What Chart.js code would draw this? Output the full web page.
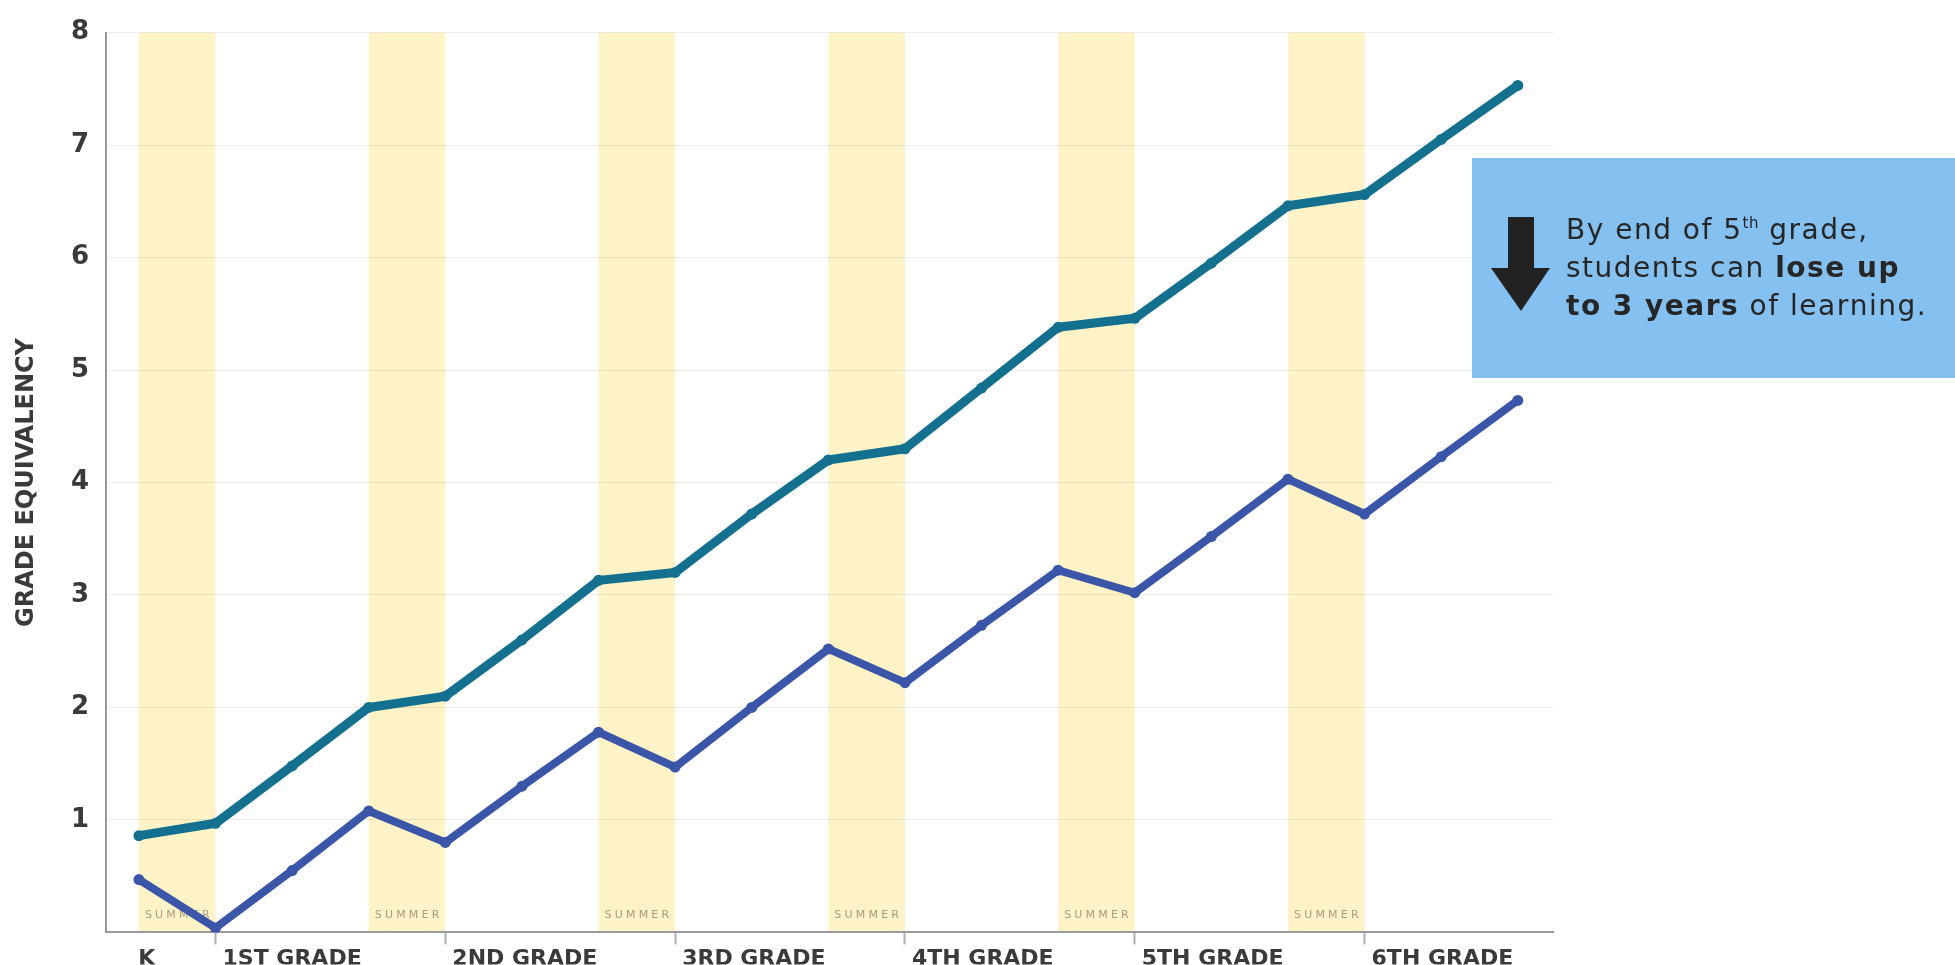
<!DOCTYPE html>
<html>
<head>
<meta charset="utf-8">
<script src="https://cdn.jsdelivr.net/npm/chart.js@4.4.1/dist/chart.umd.min.js"></script>
<style>
  html, body { margin: 0; padding: 0; background: #ffffff; }
  #wrap { width: 1955px; height: 965px; position: relative; }
  canvas { display: block; }
</style>
</head>
<body>
<div id="wrap"><canvas id="chart" width="1955" height="965"></canvas></div>
<script>
// ---------------- DATA ----------------
// 19 measurement points: start of summer, end of summer, mid-year ... (K through 6th grade)
const periods = [
  'K end', '1st start', '1st mid', '1st end', '2nd start', '2nd mid',
  '2nd end', '3rd start', '3rd mid', '3rd end', '4th start', '4th mid',
  '4th end', '5th start', '5th mid', '5th end', '6th start', '6th mid', '6th end'
];
const upperSeries = [0.86, 0.97, 1.48, 2.0, 2.1, 2.6, 3.13, 3.2, 3.72, 4.2, 4.3, 4.84, 5.38, 5.46, 5.95, 6.46, 6.56, 7.05, 7.53];
const lowerSeries = [0.47, 0.04, 0.55, 1.08, 0.8, 1.3, 1.78, 1.47, 2.0, 2.52, 2.22, 2.73, 3.22, 3.02, 3.52, 4.03, 3.72, 4.23, 4.73];
const summerStartIndex = [0, 3, 6, 9, 12, 15];      // summer runs from this point to the next one
const gradeTickIndex = [0, 1, 4, 7, 10, 13, 16];
const gradeTickLabels = ['K', '1ST GRADE', '2ND GRADE', '3RD GRADE', '4TH GRADE', '5TH GRADE', '6TH GRADE'];
const yTickValues = [1, 2, 3, 4, 5, 6, 7, 8];
const yAxisTitle = 'GRADE EQUIVALENCY';
const summerText = 'SUMMER';
const calloutLines = [
  [{ t: 'By end of 5' }, { t: 'th', sup: true }, { t: ' grade,' }],
  [{ t: 'students can ' }, { t: 'lose up', bold: true }],
  [{ t: 'to 3 years', bold: true }, { t: ' of learning.' }]
];

// ---------------- STYLE ----------------
const TEAL = '#13708f';
const BLUE = '#3b56a8';
const BAND = '#fdf3c6';
const AXIS_GRAY = '#9a9a9a';
const LABEL = '#3a3a3a';

function drawSpaced(ctx, text, x, y, spacing) {
  let cx = x;
  for (const ch of text) {
    ctx.fillText(ch, cx, y);
    cx += ctx.measureText(ch).width + spacing;
  }
  return cx;
}
function spacedWidth(ctx, text, spacing) {
  let w = 0;
  for (const ch of text) w += ctx.measureText(ch).width + spacing;
  return w;
}

const decor = {
  id: 'decor',
  beforeDraw(chart) {
    const { ctx, chartArea: a, scales: { x } } = chart;
    ctx.save();
    ctx.fillStyle = BAND;
    summerStartIndex.forEach(s => {
      const x0 = x.getPixelForValue(s), x1 = x.getPixelForValue(s + 1);
      ctx.fillRect(x0, a.top, x1 - x0, a.bottom - a.top);
    });
    ctx.restore();
  },
  beforeDatasetsDraw(chart) {
    const { ctx, chartArea: a, scales: { x } } = chart;
    ctx.save();
    ctx.fillStyle = 'rgba(145,135,110,0.8)';
    ctx.font = '11px "DejaVu Sans"';
    ctx.textBaseline = 'alphabetic';
    ctx.textAlign = 'left';
    summerStartIndex.forEach(s => {
      const cx = (x.getPixelForValue(s) + x.getPixelForValue(s + 1)) / 2;
      const w = spacedWidth(ctx, summerText, 3.2) - 3.2;
      drawSpaced(ctx, summerText, cx - w / 2, a.bottom - 14, 3.2);
    });
    ctx.restore();
  },
  afterDraw(chart) {
    const { ctx } = chart;
    ctx.save();
    // callout box
    ctx.fillStyle = '#84c0f0';
    ctx.fillRect(1472, 158, 1955 - 1472, 220);
    // arrow
    ctx.fillStyle = '#222222';
    ctx.beginPath();
    ctx.moveTo(1508, 217);
    ctx.lineTo(1534, 217);
    ctx.lineTo(1534, 268);
    ctx.lineTo(1550, 268);
    ctx.lineTo(1521, 311);
    ctx.lineTo(1491, 268);
    ctx.lineTo(1508, 268);
    ctx.closePath();
    ctx.fill();
    // text
    ctx.fillStyle = '#262626';
    ctx.textBaseline = 'alphabetic';
    ctx.textAlign = 'left';
    const baselines = [239, 277, 315];
    const size = 28, ls = 1.5;
    calloutLines.forEach((line, i) => {
      let cx = 1566;
      line.forEach(seg => {
        if (seg.sup) {
          ctx.font = `${Math.round(size * 0.55)}px "DejaVu Sans"`;
          cx = drawSpaced(ctx, seg.t, cx, baselines[i] - 11, 0.5);
        } else {
          ctx.font = `${seg.bold ? 'bold ' : ''}${size}px "DejaVu Sans"`;
          cx = drawSpaced(ctx, seg.t, cx, baselines[i], ls);
        }
      });
    });
    ctx.restore();
  }
};

const toPoints = arr => arr.map((v, i) => ({ x: i, y: v }));

new Chart(document.getElementById('chart'), {
  type: 'line',
  data: {
    labels: periods,
    datasets: [
      {
        label: 'Upper',
        data: toPoints(upperSeries),
        borderColor: TEAL,
        backgroundColor: TEAL,
        borderWidth: 9,
        pointRadius: 5.5,
        pointBorderWidth: 0,
        tension: 0,
        borderJoinStyle: 'round',
        borderCapStyle: 'round'
      },
      {
        label: 'Lower',
        data: toPoints(lowerSeries),
        borderColor: BLUE,
        backgroundColor: BLUE,
        borderWidth: 8,
        pointRadius: 5.5,
        pointBorderWidth: 0,
        tension: 0,
        borderJoinStyle: 'round',
        borderCapStyle: 'round'
      }
    ]
  },
  options: {
    responsive: false,
    animation: false,
    devicePixelRatio: 1,
    layout: { padding: { top: 28, right: 402, bottom: 0, left: 0 } },
    plugins: { legend: { display: false }, tooltip: { enabled: false } },
    scales: {
      x: {
        type: 'linear',
        min: -0.43,
        max: 18.46,
        afterBuildTicks: scale => {
          scale.ticks = gradeTickIndex.map((v, i) => ({ value: i === 0 ? v - 0.1 : v }));
        },
        afterFit: scale => { scale.height = 32; },
        ticks: {
          autoSkip: false,
          maxRotation: 0,
          align: 'start',
          labelOffset: 7,
          padding: 2,
          color: LABEL,
          font: { family: 'DejaVu Sans', weight: 'bold', size: 22 },
          callback: (value, index) => gradeTickLabels[index]
        },
        grid: {
          drawOnChartArea: false,
          drawTicks: true,
          tickLength: 12,
          tickWidth: 2,
          tickColor: c => (c.index === 0 ? 'rgba(0,0,0,0)' : '#b0b0b0')
        },
        border: { display: true, color: AXIS_GRAY, width: 2 }
      },
      y: {
        type: 'linear',
        min: 0,
        max: 8,
        afterBuildTicks: scale => { scale.ticks = yTickValues.map(v => ({ value: v })); },
        afterFit: scale => { scale.width = 106; },
        ticks: {
          padding: 17,
          color: LABEL,
          font: { family: 'DejaVu Sans', weight: 'bold', size: 26 }
        },
        grid: {
          drawTicks: false,
          color: 'rgba(0,0,0,0.07)',
          lineWidth: 1
        },
        border: { display: true, color: AXIS_GRAY, width: 2 },
        title: {
          display: true,
          text: yAxisTitle,
          color: LABEL,
          font: { family: 'DejaVu Sans', weight: 'bold', size: 24 },
          padding: { top: 12, bottom: 0 }
        }
      }
    }
  },
  plugins: [decor]
});
</script>
</body>
</html>
